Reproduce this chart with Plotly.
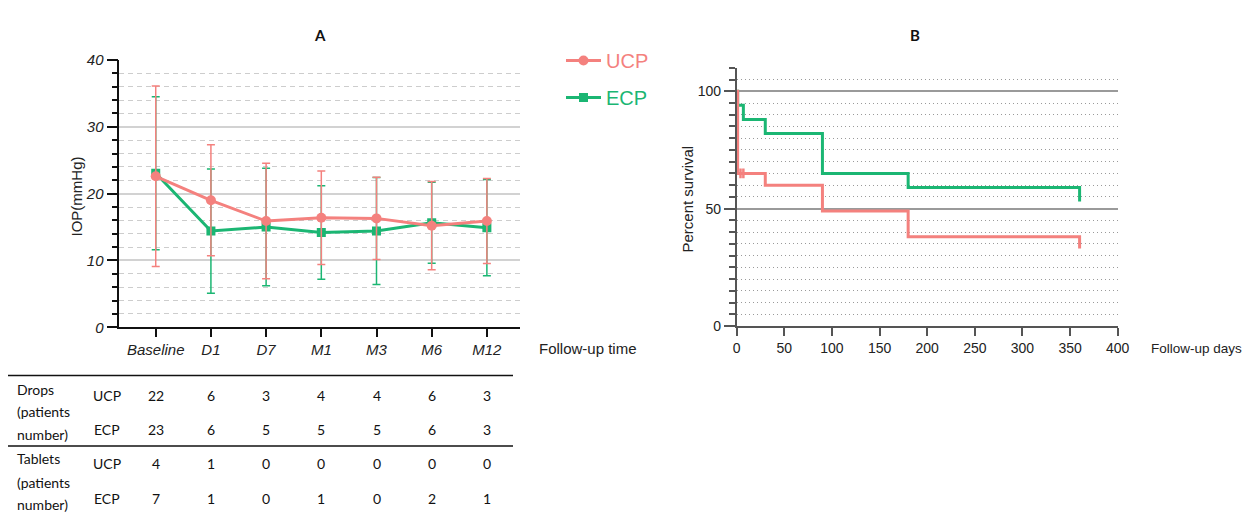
import plotly.graph_objects as go

W, H = 1243, 512

# ---------------- data ----------------
categories = ["Baseline", "D1", "D7", "M1", "M3", "M6", "M12"]
ucp_mean = [22.6, 19.0, 15.9, 16.4, 16.3, 15.2, 15.9]
ucp_sd = [13.5, 8.3, 8.65, 7.0, 6.15, 6.6, 6.35]
ecp_mean = [23.05, 14.4, 15.0, 14.2, 14.4, 15.65, 14.9]
ecp_sd = [11.45, 9.3, 8.8, 7.0, 8.0, 6.05, 7.2]

drops_ucp = [22, 6, 3, 4, 4, 6, 3]
drops_ecp = [23, 6, 5, 5, 5, 6, 3]
tablets_ucp = [4, 1, 0, 0, 0, 0, 0]
tablets_ecp = [7, 1, 0, 1, 0, 2, 1]

km_days = [0, 1, 7, 30, 90, 180, 360]
km_ucp = [100, 65, 65, 60, 49, 38, 33]
km_ecp = [100, 94, 88, 82, 65, 59, 53]
censor_ucp_days = [4, 7]
censor_ucp_vals = [65, 65]

RED = "#F4817E"
GREEN = "#1BB673"
FONT = "Liberation Sans, Arial, sans-serif"
TFONT = "Lato, Carlito, sans-serif"


def px_x(v):
    return v / W


def px_y(v):
    return 1 - v / H


fig = go.Figure()

# ---------------- panel A ----------------
fig.add_trace(go.Scatter(
    x=categories, y=ecp_mean, name=f"<span style='color:{GREEN}'>ECP</span>",
    mode="lines+markers", xaxis="x", yaxis="y",
    line=dict(color=GREEN, width=3),
    marker=dict(symbol="square", size=9, color=GREEN),
    error_y=dict(type="data", array=ecp_sd, color=GREEN, thickness=1.5, width=4),
    legendgroup="e", legendrank=2,
))
fig.add_trace(go.Scatter(
    x=categories, y=ucp_mean, name=f"<span style='color:{RED}'>UCP</span>",
    mode="lines+markers", xaxis="x", yaxis="y",
    line=dict(color=RED, width=3),
    marker=dict(symbol="circle", size=10, color=RED),
    error_y=dict(type="data", array=ucp_sd, color=RED, thickness=1.5, width=4),
    legendgroup="u", legendrank=1,
))

# ---------------- panel B ----------------
fig.add_trace(go.Scatter(
    x=km_days, y=km_ecp, mode="lines", line_shape="hv", xaxis="x2", yaxis="y2",
    line=dict(color=GREEN, width=3), showlegend=False,
))
fig.add_trace(go.Scatter(
    x=km_days, y=km_ucp, mode="lines", line_shape="hv", xaxis="x2", yaxis="y2",
    line=dict(color=RED, width=3), showlegend=False,
))
fig.add_trace(go.Scatter(
    x=censor_ucp_days, y=censor_ucp_vals, mode="markers", xaxis="x2", yaxis="y2",
    marker=dict(symbol="line-ns", size=7, line=dict(color=RED, width=2.5)),
    showlegend=False,
))

annotations = []
# titles
annotations.append(dict(text="<b>A</b>", x=px_x(312), y=px_y(24), xref="paper", yref="paper",
                        showarrow=False, font=dict(family=TFONT, size=15, color="#111")))
annotations.append(dict(text="<b>B</b>", x=px_x(922), y=px_y(24), xref="paper", yref="paper",
                        showarrow=False, font=dict(family=TFONT, size=15, color="#111")))
annotations.append(dict(text="Follow-up time", x=px_x(537), y=px_y(348), xref="paper", yref="paper",
                        xanchor="left", yanchor="middle", showarrow=False,
                        font=dict(family=FONT, size=15, color="#222")))
annotations.append(dict(text="Follow-up days", x=px_x(1149), y=px_y(348), xref="paper", yref="paper",
                        xanchor="left", yanchor="middle", showarrow=False,
                        font=dict(family=FONT, size=13.5, color="#222")))
# axis titles
annotations.append(dict(text="IOP(mmHg)", x=px_x(75.5), y=px_y(197), xref="paper", yref="paper",
                        textangle=-90, xanchor="center", yanchor="middle", showarrow=False,
                        font=dict(family=FONT, size=15, color="#222")))
annotations.append(dict(text="Percent survival", x=px_x(686.5), y=px_y(199), xref="paper", yref="paper",
                        textangle=-90, xanchor="center", yanchor="middle", showarrow=False,
                        font=dict(family=FONT, size=15, color="#222")))

# table
tf = dict(family=TFONT, size=14, color="#111")
for txt, yy in [("Drops", 389), ("(patients", 411), ("number)", 434),
                ("Tablets", 458), ("(patients", 482), ("number)", 504)]:
    annotations.append(dict(text=txt, x=px_x(15), y=px_y(yy), xref="paper", yref="paper",
                            xanchor="left", yanchor="middle", showarrow=False, font=tf))
rows = [("UCP", drops_ucp, 395), ("ECP", drops_ecp, 429),
        ("UCP", tablets_ucp, 463), ("ECP", tablets_ecp, 498)]
for grp, vals, yy in rows:
    annotations.append(dict(text=grp, x=px_x(107), y=px_y(yy), xref="paper", yref="paper",
                            xanchor="center", yanchor="middle", showarrow=False, font=tf))
    for c, v in zip(categories, vals):
        annotations.append(dict(text=str(v), x=c, y=px_y(yy), xref="x", yref="paper",
                                xanchor="center", yanchor="middle", showarrow=False, font=tf))

shapes = [
    dict(type="line", xref="paper", yref="paper", x0=px_x(8), x1=px_x(513),
         y0=px_y(375.5), y1=px_y(375.5), line=dict(color="#111", width=1.5)),
    dict(type="line", xref="paper", yref="paper", x0=px_x(8), x1=px_x(513),
         y0=px_y(446), y1=px_y(446), line=dict(color="#111", width=1.5)),
]

fig.update_layout(
    width=W, height=H,
    margin=dict(l=0, r=0, t=0, b=0),
    paper_bgcolor="white", plot_bgcolor="white",
    font=dict(family=FONT, color="#222"),
    annotations=annotations,
    shapes=shapes,
    legend=dict(x=px_x(561), y=px_y(41), xanchor="left", yanchor="top",
                font=dict(family=FONT, size=20), tracegroupgap=8, itemwidth=35,
                bgcolor="rgba(0,0,0,0)", traceorder="grouped"),
    xaxis=dict(
        domain=[px_x(119.3), px_x(520)], type="category", range=[-0.66, 6.6],
        showline=True, linecolor="#111", linewidth=1.5, ticks="outside", ticklen=8,
        tickwidth=1.5, tickcolor="#111", showgrid=False, zeroline=False,
        tickfont=dict(family=FONT, size=15, style="italic", color="#222"),
        anchor="y", automargin=False,
    ),
    yaxis=dict(
        domain=[px_y(327.3), px_y(60)], range=[0, 40], tickvals=[0, 10, 20, 30, 40],
        showline=True, linecolor="#111", linewidth=1.5, ticks="outside", ticklen=11,
        tickwidth=1.5, tickcolor="#111", zeroline=False,
        showgrid=True, gridcolor="#d2d2d2", gridwidth=1.5,
        minor=dict(dtick=2, tick0=0, ticks="outside", ticklen=6, tickwidth=1.5, tickcolor="#111",
                   showgrid=True, gridcolor="#cdcdcd", griddash="5px,4px", gridwidth=1),
        tickfont=dict(family=FONT, size=15, style="italic", color="#222"),
        anchor="x", automargin=False,
    ),
    xaxis2=dict(
        domain=[px_x(736.7), px_x(1117.7)], range=[0, 400], tickvals=list(range(0, 401, 50)),
        showline=True, linecolor="#555", linewidth=1.5, ticks="outside", ticklen=8,
        tickwidth=1.5, tickcolor="#555", showgrid=False, zeroline=False,
        tickfont=dict(family=FONT, size=14, color="#222"),
        anchor="y2", automargin=False,
    ),
    yaxis2=dict(
        domain=[px_y(326), px_y(67.8)], range=[0, 110], tickvals=[0, 50, 100],
        showline=True, linecolor="#555", linewidth=1.5, ticks="outside", ticklen=11,
        tickwidth=1.5, tickcolor="#555", zeroline=False,
        showgrid=True, gridcolor="#9a9a9a", gridwidth=1.5,
        minor=dict(dtick=5, tick0=0, ticks="outside", ticklen=6, tickwidth=1.5, tickcolor="#555",
                   showgrid=True, gridcolor="#9a9a9a", griddash="1.5px,2.5px", gridwidth=1),
        tickfont=dict(family=FONT, size=14, color="#222"),
        anchor="x2", automargin=False,
    ),
)

fig.write_html(
    "out.html",
    config={"displayModeBar": False},
    post_script="document.body.style.margin='0px';document.body.style.overflow='hidden';",
)
